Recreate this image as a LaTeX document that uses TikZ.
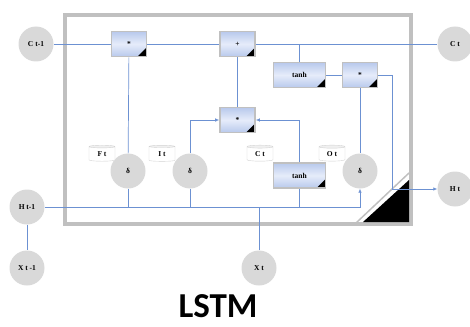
\documentclass[tikz,border=0pt]{standalone}
\usepackage{fontspec}
\setmainfont{Liberation Serif}
\newfontfamily\titlefont{Carlito}
\usetikzlibrary{shapes.geometric,arrows.meta}

\definecolor{linkblue}{RGB}{108,145,210}
\definecolor{framegray}{RGB}{192,192,192}
\definecolor{nodegray}{RGB}{217,217,217}
\definecolor{boxtop}{RGB}{184,201,236}
\definecolor{boxmid}{RGB}{230,236,250}

\tikzset{
  link/.style={linkblue, line width=0.7pt},
  tip/.style={-{Latex[length=4pt,width=3.5pt]}},
  state/.style={circle, fill=nodegray, minimum size=35pt, inner sep=0pt,
    font=\fontsize{7.5}{8}\selectfont\bfseries},
  gate/.style={rectangle, draw=framegray, line width=1.6pt, minimum width=35pt,
    minimum height=25pt, inner sep=0pt, top color=boxtop, bottom color=boxtop,
    middle color=boxmid, font=\fontsize{7.5}{8}\selectfont\bfseries,
    path picture={\fill[black] (path picture bounding box.south east)
      -- ++(-9pt,0pt) -- ++(9pt,9pt) -- cycle;}},
  widegate/.style={gate, minimum width=52pt},
  tag/.style={cylinder, shape border rotate=90, aspect=0.3, draw=gray!35,
    cylinder uses custom fill, cylinder body fill=white, cylinder end fill=gray!12,
    minimum width=26pt, minimum height=16pt, inner sep=0pt,
    font=\fontsize{7.5}{8}\selectfont\bfseries}
}

\begin{document}
\begin{tikzpicture}[x=1pt,y=-1pt]
    \useasboundingbox (0,0) rectangle (470,326);

    % Draw cell frame
    \draw[framegray, line width=4pt] (64.5,15.5) rectangle (411,224);
    \draw[framegray, line width=1.5pt] (409,173) -- (356,223);
    \fill[black] (409,180) -- (363,222) -- (409,222) -- cycle;

    % Outside states
    \node[state] (ctm) at (36,44) {C t-1};
    \node[state] (ct) at (455,44) {C t};
    \node[state] (htm) at (27,207) {H t-1};
    \node[state] (ht) at (455,189) {H t};
    \node[state] (xtm) at (27,268) {X t -1};
    \node[state] (xt) at (259,268) {X t};

    % Gates
    \node[state] (sigf) at (128,171) {δ};
    \node[state] (sigi) at (190,171) {δ};
    \node[state] (sigo) at (360,171) {δ};

    % Operations
    \node[gate] (mulf) at (129,44) {*};
    \node[gate] (add) at (237.5,44) {+};
    \node[widegate] (tanhc) at (299.5,75) {tanh};
    \node[gate] (mulo) at (360,75) {*};
    \node[gate] (muli) at (237.5,120) {*};
    \node[widegate] (tanhb) at (299.5,175.5) {tanh};

    % Labels
    \node[tag] (labf) at (102,154) {F t};
    \node[tag] (labi) at (162,154) {I t};
    \node[tag] (labc) at (260,154) {C t};
    \node[tag] (labo) at (332,154) {O t};

    % Cell line
    \draw[link] (ctm) -- (mulf) -- (add) -- (ct);
    \draw[link] (tanhc.north) -- (tanhc.north |- ct);
    \draw[link] (tanhc) -- (mulo);
    \draw[link] (add) -- (muli);
    \draw[link] (mulf) -- (sigf);
    \draw[link] (mulo) -- (sigo);

    % Inputs to the middle product
    \draw[link,tip] (sigi.north) |- (muli.west);
    \draw[link,tip] (tanhb.north) |- (muli.east);

    % Hidden line
    \coordinate (hbend) at (392,75);
    \draw[link,tip] (mulo) -- (hbend) |- (ht);
    \draw[link,tip] (htm) -| (sigo);
    \draw[link] (htm) -- (xtm);
    \draw[link] (sigf) -- (sigf |- htm);
    \draw[link] (sigi) -- (sigi |- htm);
    \draw[link] (tanhb) -- (tanhb |- htm);
    \draw[link] (xt) -- (xt |- htm);

    % Title
    \node[font=\titlefont\bfseries\fontsize{35}{36}\selectfont] (title) at (218,306) {LSTM};
\end{tikzpicture}
\end{document}
